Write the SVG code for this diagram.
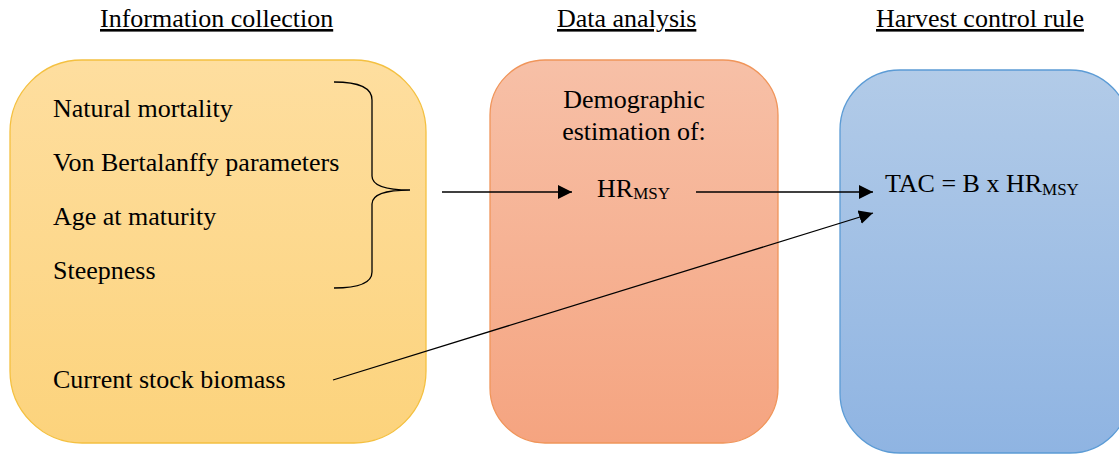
<svg xmlns="http://www.w3.org/2000/svg" width="1119" height="455" viewBox="0 0 1119 455">
<style>
text{font-family:"Liberation Serif",serif;font-size:26px;fill:#000}
.hdr{text-decoration:underline}
.sub{font-size:17px}
.conn{stroke:#000;stroke-width:1.3;fill:none}
</style>
<defs>
<linearGradient id="gy" x1="0" y1="0" x2="0" y2="1"><stop offset="0" stop-color="#FEDE9F"/><stop offset="1" stop-color="#FCD37C"/></linearGradient>
<linearGradient id="go" x1="0" y1="0" x2="0" y2="1"><stop offset="0" stop-color="#F7C0A7"/><stop offset="1" stop-color="#F5A480"/></linearGradient>
<linearGradient id="gb" x1="0" y1="0" x2="0" y2="1"><stop offset="0" stop-color="#B2CBE8"/><stop offset="1" stop-color="#8FB4E2"/></linearGradient>
<marker id="ah" viewBox="0 0 10 10" refX="10" refY="5" markerWidth="14" markerHeight="14" markerUnits="userSpaceOnUse" orient="auto"><path d="M0,0 L10,5 L0,10 z" fill="#000"/></marker>
</defs>
<rect width="1119" height="455" fill="#fff"/>
<g id="headers">
<text class="hdr" x="100" y="27">Information collection</text>
<text class="hdr" x="557" y="27">Data analysis</text>
<text class="hdr" x="876" y="27">Harvest control rule</text>
</g>
<g id="node-info">
<rect x="10" y="60" width="416" height="383" rx="72" fill="url(#gy)" stroke="#F4C040" stroke-width="1.3"/>
<text x="53" y="117">Natural mortality</text>
<text x="53" y="171">Von Bertalanffy parameters</text>
<text x="53" y="225">Age at maturity</text>
<text x="53" y="279">Steepness</text>
<text x="53" y="388">Current stock biomass</text>
<path d="M334,82 C360,82 372,88 372,100 L372,176 C372,186 385,190 410,190 M372,204 C372,194 385,190 410,190 M334,288 C360,288 372,282 372,272 L372,204" class="conn"/>
</g>
<g id="node-analysis">
<rect x="490" y="60" width="288" height="383" rx="55" fill="url(#go)" stroke="#F0955A" stroke-width="1.3"/>
<text x="634" y="108" text-anchor="middle">Demographic</text>
<text x="634" y="140" text-anchor="middle">estimation of:</text>
<text x="597" y="197">HR<tspan class="sub" dy="2">MSY</tspan></text>
</g>
<g id="node-hcr">
<rect x="840" y="70" width="290" height="383" rx="60" fill="url(#gb)" stroke="#5B9BD5" stroke-width="1.3"/>
<text x="885" y="192">TAC = B x HR<tspan class="sub" dy="3">MSY</tspan></text>
</g>
<g id="connectors">
<line x1="442" y1="192" x2="572" y2="192" class="conn" marker-end="url(#ah)"/>
<line x1="696" y1="192" x2="873" y2="192" class="conn" marker-end="url(#ah)"/>
<line x1="333" y1="380" x2="873" y2="213" class="conn" marker-end="url(#ah)"/>
</g>
</svg>
